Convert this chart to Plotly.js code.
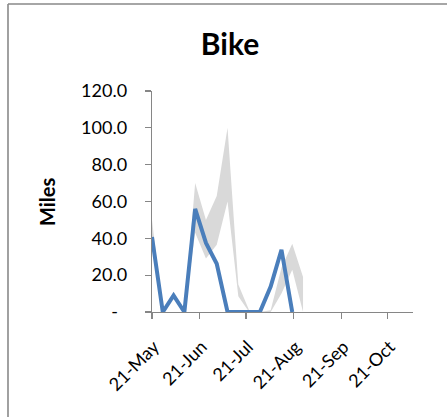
<!DOCTYPE html>
<html>
<head>
<meta charset="utf-8">
<script src="https://cdn.plot.ly/plotly-3.0.1.min.js"></script>
<style>html,body{margin:0;padding:0;background:#fff;}#chart{width:447px;height:417px;}</style>
</head>
<body>
<div id="chart"></div>
<script>
// Weekly dates (21-May onward)
var weeks = ["2012-05-21","2012-05-28","2012-06-04","2012-06-11","2012-06-18","2012-06-25","2012-07-02",
             "2012-07-09","2012-07-16","2012-07-23","2012-07-30","2012-08-06","2012-08-13","2012-08-20","2012-08-27"];
// Current-year miles (blue line)
var bikeMiles = [40.7, 0, 9, 0, 56, 37.5, 26.2, 0, 0, 0, 0, 13.8, 33.8, 0];
// Gray range band (low / high)
var bandLow  = [40, 0, 0, 0, 43, 29, 36.5, 60, 8.5, 0, 0, 0, 10, 23, 0];
var bandHigh = [50, 0, 0, 0, 70, 50, 63, 100, 15, 1, 0, 1, 24, 37, 19];
// Axis ticks
var xTickVals = ["2012-05-21","2012-06-21","2012-07-21","2012-08-21","2012-09-21","2012-10-21"];
var xTickText = ["21-May","21-Jun","21-Jul","21-Aug","21-Sep","21-Oct"];
var yTickVals = [0, 20, 40, 60, 80, 100, 120];
var yTickText = ["-\u00a0\u00a0", "20.0", "40.0", "60.0", "80.0", "100.0", "120.0"];

var W = 447, H = 417;
var mL = 152, mR = 34, mT = 91, mB = 105;
var pw = W - mL - mR, ph = H - mT - mB;
function px(x){ return (x - mL) / pw; }
function py(y){ return (H - mB - y) / ph; }

var traces = [
  {x: weeks.slice(0, bandLow.length), y: bandLow, type:'scatter', mode:'lines',
   line:{width:0, color:'rgba(0,0,0,0)'}, hoverinfo:'skip', showlegend:false},
  {x: weeks.slice(0, bandHigh.length), y: bandHigh, type:'scatter', mode:'lines',
   fill:'tonexty', fillcolor:'#D9D9D9', line:{width:0, color:'rgba(0,0,0,0)'}, showlegend:false},
  {x: weeks.slice(0, bikeMiles.length), y: bikeMiles, type:'scatter', mode:'lines',
   line:{color:'#4A7EBB', width:4}, showlegend:false}
];

var axisColor = '#868686';
var layout = {
  width: W, height: H,
  margin: {l: mL, r: mR, t: mT, b: mB},
  paper_bgcolor: '#ffffff', plot_bgcolor: '#ffffff',
  font: {family: 'Lato, "Open Sans", sans-serif', color: '#000', size: 18},
  title: {text: '<b>Bike</b>', font: {family: 'Lato, sans-serif', size: 30, color: '#000'},
          xref: 'container', yref: 'container', x: 230/W, xanchor: 'center', y: 1 - 44/H, yanchor: 'middle'},
  xaxis: {type: 'date', range: ['2012-05-21', '2012-11-06 08:00'],
          tickvals: xTickVals, ticktext: xTickText, tickangle: -45,
          showgrid: false, zeroline: false, showline: true, linecolor: axisColor, linewidth: 1.3,
          ticks: 'outside', ticklen: 6, tickcolor: axisColor, tickwidth: 1.3,
          ticklabelstandoff: 10, ticklabelshift: 2,
          tickfont: {size: 18, family: 'Lato, sans-serif', color: '#000'}},
  yaxis: {range: [0, 120], tickvals: yTickVals, ticktext: yTickText,
          showgrid: false, zeroline: false, showline: true, linecolor: axisColor, linewidth: 1.3,
          ticks: 'outside', ticklen: 6, tickcolor: axisColor, tickwidth: 1.3,
          ticklabelstandoff: 14,
          tickfont: {size: 18, family: 'Lato, sans-serif', color: '#000'}},
  annotations: [
    {text: '<b>Miles</b>', xref: 'paper', yref: 'paper', x: px(47), y: py(202),
     xanchor: 'center', yanchor: 'middle', textangle: -90, showarrow: false,
     font: {family: 'Lato, sans-serif', size: 20, color: '#000'}}
  ],
  shapes: [
    {type: 'line', xref: 'paper', yref: 'paper', x0: px(8), x1: px(448), y0: py(4), y1: py(4),
     line: {color: '#898989', width: 1.6}},
    {type: 'line', xref: 'paper', yref: 'paper', x0: px(8), x1: px(8), y0: py(4), y1: py(417),
     line: {color: '#898989', width: 1.6}}
  ]
};

Plotly.newPlot('chart', traces, layout, {staticPlot: true, displayModeBar: false});
</script>
</body>
</html>
